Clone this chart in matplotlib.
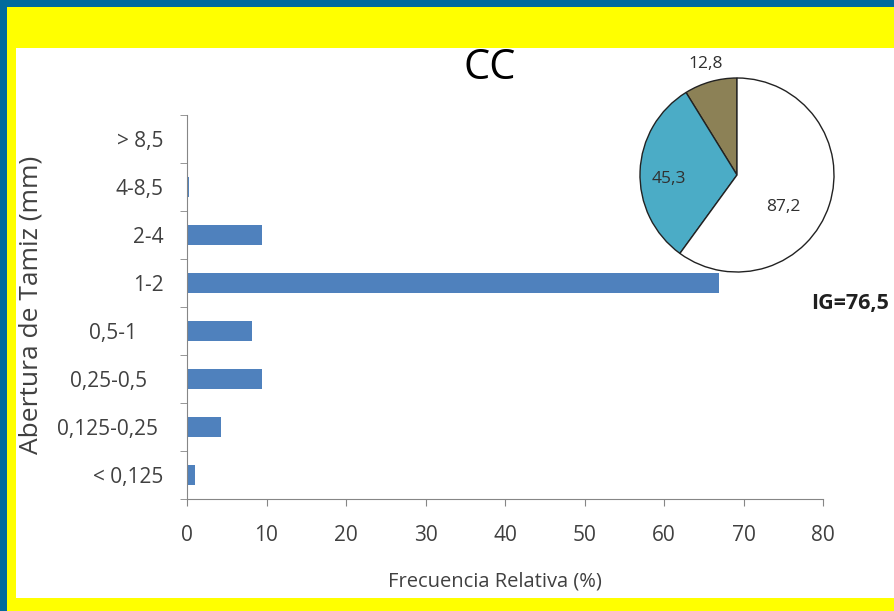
import matplotlib
matplotlib.use("Agg")
import matplotlib.pyplot as plt
from matplotlib.patches import Rectangle

# --- Data ---
categories = ["< 0,125", "0,125-0,25 ", "0,25-0,5   ", "0,5-1     ",
              "1-2", "2-4", "4-8,5", "> 8,5"]
frequencies = [1.0, 4.3, 9.4, 8.2, 66.9, 9.4, 0.3, 0.0]

pie_values = [12.8, 45.3, 87.2]
pie_labels = ["12,8", "45,3", "87,2"]
pie_colors = ["#8c8156", "#4bacc6", "#ffffff"]

x_ticks = [0, 10, 20, 30, 40, 50, 60, 70, 80]

plt.rcParams["font.family"] = ["Liberation Sans Narrow", "Open Sans", "DejaVu Sans"]

W, H = 895, 611
fig = plt.figure(figsize=(W / 100, H / 100), dpi=100, facecolor="#026a9c")

# --- Frame: blue border, yellow band, white panel ---
fig.patches.append(Rectangle((7 / W, 0), 1, (H - 7) / H, transform=fig.transFigure,
                             facecolor="#ffff00", edgecolor="none", zorder=-2))
fig.patches.append(Rectangle((16 / W, 1 - 598 / H), 1, (598 - 48) / H,
                             transform=fig.transFigure, facecolor="white",
                             edgecolor="none", zorder=-1))

# --- Bar chart ---
ax = fig.add_axes([187 / W, 1 - 499 / H, (823 - 187) / W, (499 - 115) / H])
ax.set_facecolor("none")
ypos = list(range(len(categories)))
ax.barh(ypos, frequencies, height=0.4, color="#4f81bd")
ax.set_xlim(0, 80)
ax.set_ylim(-0.5, len(categories) - 0.5)
ax.set_xticks(x_ticks)
ax.set_xticklabels([str(t) for t in x_ticks], fontsize=15, color="#404040")
ax.set_yticks(ypos)
ax.set_yticklabels(categories, fontsize=15, color="#404040")
ax.set_yticks([y - 0.5 for y in range(len(categories) + 1)], minor=True)
ax.tick_params(axis="y", which="major", length=0, pad=17)
ax.tick_params(axis="y", which="minor", length=5, color="#868686", direction="out")
ax.tick_params(axis="x", length=5, color="#868686", pad=14)
for side in ["top", "right"]:
    ax.spines[side].set_visible(False)
for side in ["left", "bottom"]:
    ax.spines[side].set_color("#868686")
fig.text(495 / W, 1 - 582 / H, "Frecuencia Relativa (%)", fontsize=14.5,
         color="#404040", ha="center", va="center")
fig.text(31 / W, 1 - 305 / H, "Abertura de Tamiz (mm)", rotation=90, fontsize=19,
         color="#404040", ha="center", va="center")

fig.text(490 / W, 1 - 68 / H, "CC", fontsize=30, ha="center", va="center")
fig.text(850 / W, 1 - 304 / H, "IG=76,5", fontsize=15.5, fontweight="bold",
         ha="center", va="center", color="#202020")

# --- Pie inset ---
pax = fig.add_axes([640 / W, 1 - 272 / H, 194 / W, 194 / H])
wedges, _ = pax.pie(pie_values, colors=pie_colors, startangle=90, counterclock=True,
                    wedgeprops=dict(edgecolor="#222222", linewidth=1.0))
pax.set_xlim(-1, 1)
pax.set_ylim(-1, 1)
pax.set_aspect("equal")
label_pos = [(-0.32, 1.14), (-0.7, -0.04), (0.48, -0.33)]
for (lx, ly), txt in zip(label_pos, pie_labels):
    pax.text(lx, ly, txt, fontsize=12.5, ha="center", va="center", color="#303030")

fig.savefig("out.png", dpi=100, facecolor=fig.get_facecolor())
